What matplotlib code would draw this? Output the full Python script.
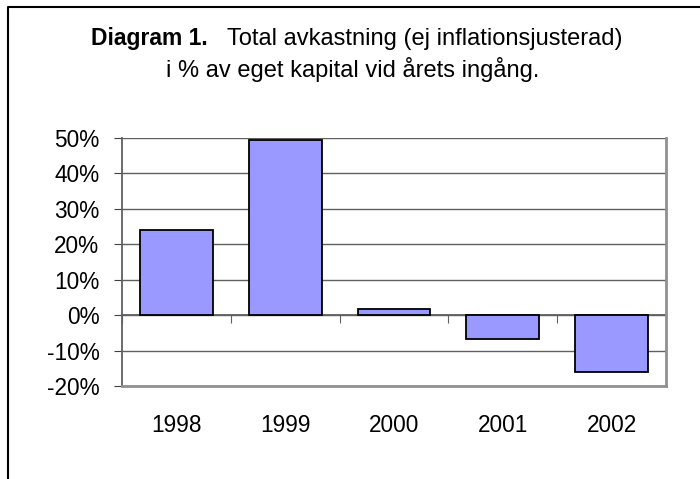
import matplotlib.pyplot as plt
from matplotlib.lines import Line2D

plt.rcParams['font.family'] = ['Liberation Sans', 'DejaVu Sans']

years = ["1998", "1999", "2000", "2001", "2002"]
returns = [24.0, 49.3, 1.6, -6.6, -16.1]
yticks = [-20, -10, 0, 10, 20, 30, 40, 50]
ytick_labels = ["-20%", "-10%", "0%", "10%", "20%", "30%", "40%", "50%"]

fig = plt.figure(figsize=(7, 4.79), dpi=100)

# outer frame (only left and top visible)
fig.add_artist(Line2D([8/700, 8/700, 1.0], [0, 1-7/479, 1-7/479],
                      transform=fig.transFigure, color="black", lw=1.5))

ax = fig.add_axes([122/700, 1-386/479, (666-122)/700, (386-138)/479])

x = list(range(len(years)))
ax.bar(x, returns, width=0.67, color="#9999FF", edgecolor="black", linewidth=1.3, zorder=3)

ax.set_xlim(-0.5, len(years) - 0.5)
ax.set_ylim(-20, 50)
ax.set_yticks(yticks)
ax.set_yticklabels(ytick_labels, fontsize=16.3)
ax.tick_params(axis="y", direction="out", length=5.8, color="#404040", pad=10.5)
ax.set_xticks(x)
ax.set_xticklabels(years, fontsize=16.3)
ax.tick_params(axis="x", length=0, pad=20)

ax.grid(axis="y", color="#606060", lw=1, zorder=0)

ax.spines["top"].set_visible(False)
ax.spines["left"].set_color("#606060")
ax.spines["left"].set_linewidth(1.3)
ax.spines["right"].set_color("#909090")
ax.spines["right"].set_linewidth(2)
ax.spines["bottom"].set_color("#909090")
ax.spines["bottom"].set_linewidth(2)

# zero line with category boundary ticks
zero_pos = (0 - (-20)) / (50 - (-20))
sec = ax.secondary_xaxis(zero_pos)
sec.set_xticks([i - 0.5 for i in range(len(years) + 1)])
sec.set_xticklabels([])
sec.tick_params(direction="out", length=5.8, color="#606060")
sec.spines["bottom"].set_color("#606060")
sec.spines["bottom"].set_linewidth(1.3)

fig.text(91/700, 1-45/479, "Diagram 1.", fontsize=16.5, fontweight="bold",
         ha="left", va="baseline")
fig.text(227/700, 1-45/479, "Total avkastning (ej inflationsjusterad)", fontsize=17,
         ha="left", va="baseline")
fig.text(353/700, 1-77/479, "i % av eget kapital vid årets ingång.", fontsize=17,
         ha="center", va="baseline")

fig.savefig("out.png", dpi=100)
